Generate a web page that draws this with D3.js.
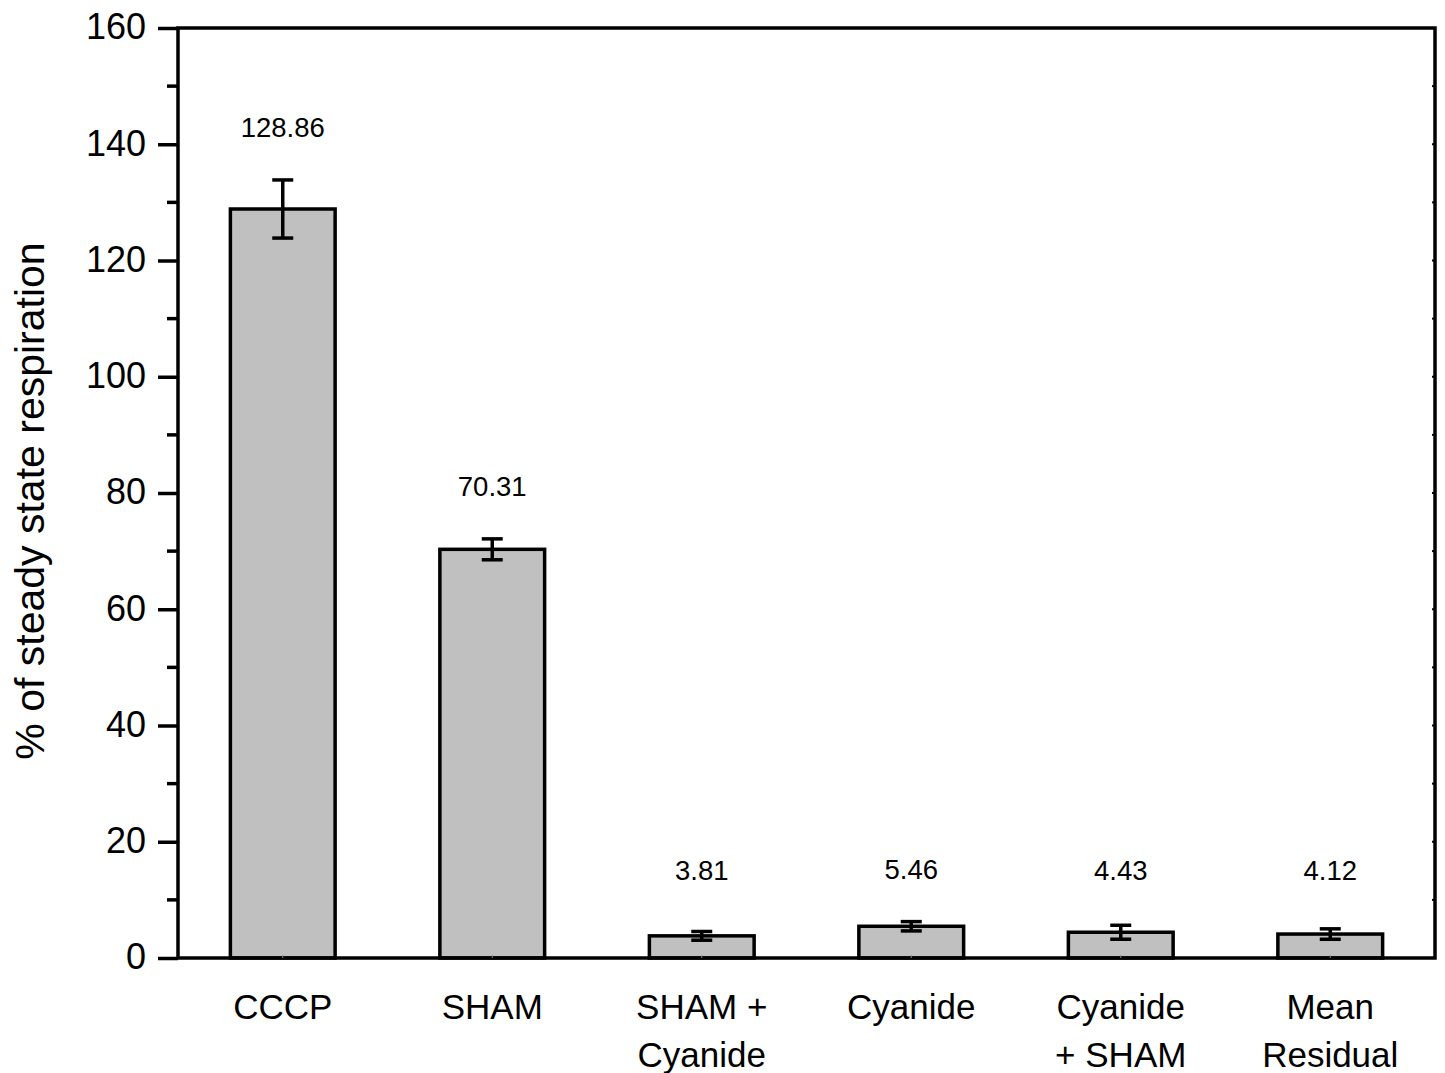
<!DOCTYPE html>
<html><head><meta charset="utf-8">
<script src="https://cdn.jsdelivr.net/npm/d3@7/dist/d3.min.js"></script>
<style>body{margin:0;background:#fff}svg{display:block}text{font-family:"Liberation Sans",Arial,sans-serif;fill:#000}</style>
</head><body>
<script>
const categories = [["CCCP"],["SHAM"],["SHAM +","Cyanide"],["Cyanide"],["Cyanide","+ SHAM"],["Mean","Residual"]];
const values = [128.86, 70.31, 3.81, 5.46, 4.43, 4.12];
const errors = [5.0, 1.8, 0.75, 0.8, 1.2, 0.9];
const labels = ["128.86","70.31","3.81","5.46","4.43","4.12"];
const yTicks = [0,20,40,60,80,100,120,140,160];

const W=1445,H=1073;
const m={l:178,r:1435,t:28,b:958};
const svg=d3.select("body").append("svg").attr("width",W).attr("height",H);
const keys=categories.map((c,i)=>i);
const x=d3.scaleBand().domain(keys).range([m.l,m.r]).paddingInner(0.5).paddingOuter(0.25);
const y=d3.scaleLinear().domain([0,160]).range([m.b,m.t]);
const SW=3.5;

// minor ticks left
const minor=d3.range(10,160,20);
svg.append("g").selectAll("line").data(minor).join("line")
  .attr("x1",m.l-11).attr("x2",m.l).attr("y1",d=>y(d)).attr("y2",d=>y(d))
  .attr("stroke","#000").attr("stroke-width",SW);
// right ticks (inward small)
svg.append("g").selectAll("line").data(minor.concat(yTicks)).join("line")
  .attr("x1",m.r-3).attr("x2",m.r).attr("y1",d=>y(d)).attr("y2",d=>y(d))
  .attr("stroke","#000").attr("stroke-width",2);

// left axis
const ya=svg.append("g").attr("transform",`translate(${m.l},0)`)
  .call(d3.axisLeft(y).tickValues(yTicks).tickSize(20).tickPadding(12));
ya.select(".domain").remove();
ya.selectAll(".tick line").attr("stroke","#000").attr("stroke-width",SW);
ya.selectAll(".tick text").attr("font-size",36).attr("dy","0.3em").style("font-family","Liberation Sans, Arial, sans-serif");

// bars
svg.append("g").selectAll("rect").data(values).join("rect")
  .attr("x",(d,i)=>x(i)).attr("width",x.bandwidth())
  .attr("y",d=>y(d)).attr("height",d=>y(0)-y(d))
  .attr("fill","#c0c0c0").attr("stroke","#000").attr("stroke-width",SW);

// error bars
const eg=svg.append("g").attr("stroke","#000").attr("stroke-width",SW);
values.forEach((v,i)=>{
  const cx=x(i)+x.bandwidth()/2, e=errors[i];
  eg.append("line").attr("x1",cx).attr("x2",cx).attr("y1",y(v+e)).attr("y2",y(v-e));
  eg.append("line").attr("x1",cx-10.5).attr("x2",cx+10.5).attr("y1",y(v+e)).attr("y2",y(v+e));
  eg.append("line").attr("x1",cx-10.5).attr("x2",cx+10.5).attr("y1",y(v-e)).attr("y2",y(v-e));
});

// value labels
svg.append("g").selectAll("text").data(values).join("text")
  .attr("x",(d,i)=>x(i)+x.bandwidth()/2)
  .attr("y",(d,i)=>Math.min(y(d+errors[i])-43, 880))
  .attr("text-anchor","middle").attr("font-size",27.5).text((d,i)=>labels[i]);

// frame
svg.append("rect").attr("x",m.l).attr("y",m.t).attr("width",m.r-m.l).attr("height",m.b-m.t)
  .attr("fill","none").attr("stroke","#000").attr("stroke-width",SW);

// small bottom ticks
const xt=keys.map(i=>x(i)+x.bandwidth()/2);
svg.append("g").selectAll("line").data(xt).join("line")
  .attr("x1",d=>d).attr("x2",d=>d).attr("y1",m.b).attr("y2",m.b-3).attr("stroke","#888").attr("stroke-width",1);

// category labels
const cg=svg.append("g");
categories.forEach((c,i)=>{
  const cx=x(i)+x.bandwidth()/2;
  const t=cg.append("text").attr("x",cx).attr("y",1019).attr("text-anchor","middle").attr("font-size",35);
  c.forEach((s,j)=>t.append("tspan").attr("x",cx).attr("dy",j?48:0).text(s));
});

// y title
svg.append("text").attr("transform",`translate(44,501) rotate(-90)`)
  .attr("text-anchor","middle").attr("font-size",41).text("% of steady state respiration");
</script>
</body></html>
